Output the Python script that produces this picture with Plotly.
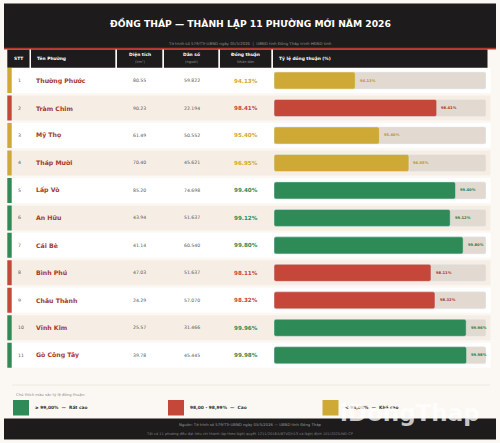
import plotly.graph_objects as go

W, H = 500, 443

# ---- data ----
stt = list(range(1, 12))
names = ["Thường Phước", "Tràm Chim", "Mỹ Thọ", "Tháp Mười", "Lấp Vò", "An Hữu",
         "Cái Bè", "Bình Phú", "Châu Thành", "Vĩnh Kim", "Gò Công Tây"]
area = [80.55, 90.23, 61.49, 70.40, 85.20, 43.94, 41.14, 47.03, 24.29, 25.57, 39.78]
population = [59822, 22194, 50552, 45621, 74698, 51637, 60540, 51637, 57070, 31466, 45445]
consensus = [94.13, 98.41, 95.40, 96.95, 99.40, 99.12, 99.80, 98.11, 98.32, 99.96, 99.98]

headers = ["STT", "Tên Phường", "Diện tích", "Dân số", "Đồng thuận", "Tỷ lệ đồng thuận (%)"]
header_sub = ["", "", "(km²)", "(người)", "Nhân dân", ""]
legend_labels = ["≥ 99,00%  —  Rất cao", "98,00 - 98,99%  —  Cao", "< 98,00%  —  Khá cao"]

title = "ĐỒNG THÁP — THÀNH LẬP 11 PHƯỜNG MỚI NĂM 2026"
subtitle = "Tờ trình số 579/TTr-UBND ngày 05/5/2026  |  UBND tỉnh Đồng Tháp trình HĐND tỉnh"
footer1 = "Nguồn: Tờ trình số 579/TTr-UBND ngày 05/5/2026 — UBND tỉnh Đồng Tháp"
footer2 = ("Tất cả 11 phường đều đạt tiêu chí thành lập theo Nghị quyết 1211/2016/UBTVQH13 "
           "và Nghị định 101/2025/NĐ-CP")

# ---- styles ----
GREEN, RED, YELLOW = "#2e8b57", "#c4473a", "#cfa935"
GREEN_T, RED_T, YELLOW_T = "#2a7a4c", "#a8362b", "#b8952c"
DARK = "#1d1b1b"
BG = "#fbf8f3"
TRACK = "#e2dad0"
FONT = "DejaVu Sans"
X0, X1 = 89.86, 101.0


def level(v):
    if v >= 99:
        return GREEN, GREEN_T
    if v >= 98:
        return RED, RED_T
    return YELLOW, YELLOW_T


def px(x):
    return x / W


def py(y):
    return 1 - y / H


def fmt_pop(n):
    return f"{n:,}".replace(",", ".")


rows = list(range(len(names)))
colors = [level(v)[0] for v in consensus]
tcolors = [level(v)[1] for v in consensus]

fig = go.Figure()
fig.add_trace(go.Bar(
    y=rows, x=[X1 - X0] * len(rows), base=X0, orientation="h",
    marker=dict(color=TRACK, cornerradius=2), width=0.62, hoverinfo="skip",
))
fig.add_trace(go.Bar(
    y=rows, x=[v - X0 for v in consensus], base=X0, orientation="h",
    marker=dict(color=colors, cornerradius=2), width=0.62,
    customdata=consensus, hovertemplate="%{customdata:.2f}%<extra></extra>",
))

shapes = []
ann = []

# top header band
shapes.append(dict(type="rect", xref="paper", yref="paper", x0=px(4), x1=px(496),
                   y0=py(48.5), y1=py(3.5), fillcolor=DARK, line_width=0, layer="below"))
shapes.append(dict(type="rect", xref="paper", yref="paper", x0=px(4), x1=px(496),
                   y0=py(49.5), y1=py(47.8), fillcolor="#b0382c", line_width=0, layer="below"))
ann.append(dict(text=f"<b>{title}</b>", x=px(250), y=py(23), font=dict(size=9.2, color="white")))
ann.append(dict(text=subtitle, x=px(250), y=py(43.3), font=dict(size=3.9, color="#8d8d8d")))

# table header cells
cells = [(7.3, 29.5), (31, 115.3), (117, 162.3), (164, 218.3), (220, 271.3), (273, 487.5)]
for i, (a, b) in enumerate(cells):
    shapes.append(dict(type="rect", xref="paper", yref="paper", x0=px(a), x1=px(b),
                       y0=py(67.7), y1=py(49.6), fillcolor=DARK, line_width=0, layer="below"))
    if i in (1, 5):
        ann.append(dict(text=f"<b>{headers[i]}</b>", x=px(a + 3.5), y=py(58.3), xanchor="left",
                        font=dict(size=4.4, color="white")))
    elif header_sub[i]:
        ann.append(dict(text=f"<b>{headers[i]}</b>", x=px((a + b) / 2), y=py(54.3),
                        font=dict(size=4.4, color="white")))
        ann.append(dict(text=header_sub[i], x=px((a + b) / 2), y=py(61.7),
                        font=dict(size=3.6, color="#8a8a8a")))
    else:
        ann.append(dict(text=f"<b>{headers[i]}</b>", x=px((a + b) / 2), y=py(58.3),
                        font=dict(size=4.4, color="white")))

# rows
for i in rows:
    fill = "white" if i % 2 == 0 else "#f6eee4"
    shapes.append(dict(type="rect", xref="paper", yref="y", x0=px(11.7), x1=px(490.5),
                       y0=i - 0.455, y1=i + 0.455, fillcolor=fill, line_width=0, layer="below"))
    shapes.append(dict(type="rect", xref="paper", yref="y", x0=px(7.3), x1=px(11.7),
                       y0=i - 0.455, y1=i + 0.455, fillcolor=colors[i], line_width=0, layer="below"))
    ann.append(dict(text=str(stt[i]), x=px(16), y=i, yref="y", xanchor="left",
                    font=dict(size=4.6, color="#555")))
    ann.append(dict(text=f"<b>{names[i]}</b>", x=px(34.3), y=i, yref="y", xanchor="left",
                    font=dict(size=6.2, color="#a33a2f")))
    ann.append(dict(text=f"{area[i]:.2f}", x=px(139.5), y=i, yref="y",
                    font=dict(size=4.6, color="#555")))
    ann.append(dict(text=fmt_pop(population[i]), x=px(191.5), y=i, yref="y",
                    font=dict(size=4.6, color="#555")))
    ann.append(dict(text=f"<b>{consensus[i]:.2f}%</b>", x=px(245.5), y=i, yref="y",
                    font=dict(size=5.6, color=colors[i])))
    ann.append(dict(text=f"<b>{consensus[i]:.2f}%</b>", x=consensus[i], xref="x", y=i, yref="y",
                    xanchor="left", xshift=2.5, font=dict(size=3.7, color=tcolors[i])))

# legend
shapes.append(dict(type="line", xref="paper", yref="paper", x0=px(12), x1=px(490),
                   y0=py(385), y1=py(385), line=dict(color="#ebe4da", width=0.8)))
ann.append(dict(text="Chú thích màu sắc tỷ lệ đồng thuận:", x=px(14), y=py(394.5), xanchor="left",
                font=dict(size=3.8, color="#8a8a8a")))
for (sx, col, lab) in [(13, GREEN, legend_labels[0]), (168, RED, legend_labels[1]),
                       (322.5, YELLOW, legend_labels[2])]:
    shapes.append(dict(type="rect", xref="paper", yref="paper", x0=px(sx), x1=px(sx + 16),
                       y0=py(415.5), y1=py(400), fillcolor=col, line_width=0, layer="below"))
    ann.append(dict(text=f"<b>{lab}</b>", x=px(sx + 20), y=py(407.8), xanchor="left",
                    font=dict(size=4.4, color="#333")))

# footer
shapes.append(dict(type="rect", xref="paper", yref="paper", x0=px(4), x1=px(496),
                   y0=py(439.5), y1=py(418.5), fillcolor=DARK, line_width=0, layer="below"))
ann.append(dict(text=footer1, x=px(250), y=py(424.8), font=dict(size=3.8, color="#9a9a9a")))
ann.append(dict(text=footer2, x=px(250), y=py(433.5), font=dict(size=3.6, color="#7d7d7d")))

# watermark
ann.append(dict(text="<b>iDongThap</b>", x=px(410), y=py(413), opacity=0.75,
                font=dict(size=23, color="white", family=FONT)))

for a in ann:
    a.setdefault("xref", "paper")
    a.setdefault("yref", "paper")
    a.setdefault("showarrow", False)
    a.setdefault("xanchor", "center")
    a.setdefault("yanchor", "middle")

fig.update_layout(
    width=W, height=H,
    margin=dict(l=0, r=0, t=0, b=0),
    paper_bgcolor=BG, plot_bgcolor="rgba(0,0,0,0)",
    font=dict(family=FONT),
    barmode="overlay", showlegend=False,
    xaxis=dict(domain=[px(274), px(486)], range=[X0, X1], visible=False, fixedrange=True),
    yaxis=dict(domain=[py(369.0), py(66.8)], range=[10.5, -0.5], visible=False, fixedrange=True),
    shapes=shapes, annotations=ann,
)

# page has a default 8px body margin; drop it so the figure fills the window
fig.write_html("out.html", config={"displayModeBar": False},
               post_script="document.body.style.margin='0';")
